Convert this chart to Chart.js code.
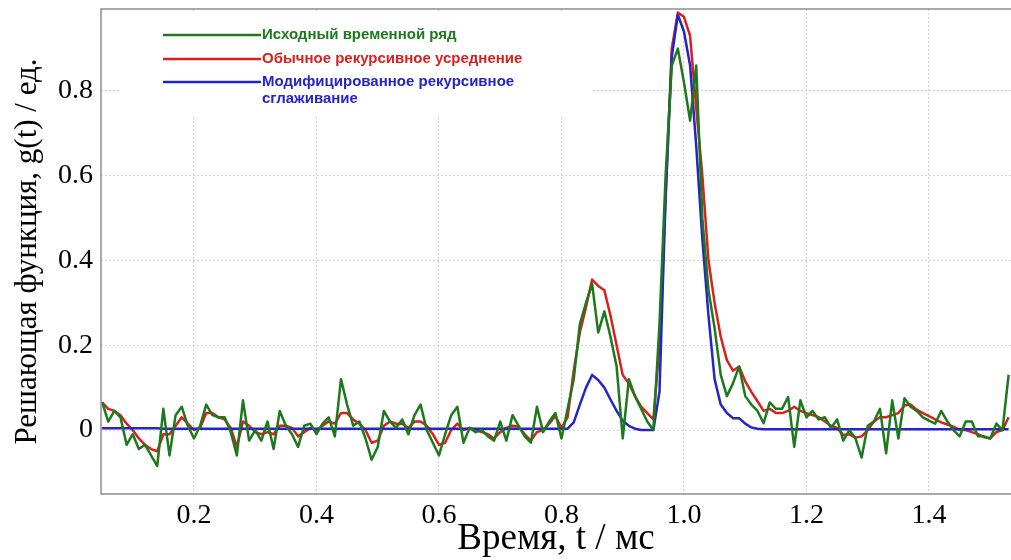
<!DOCTYPE html>
<html>
<head>
<meta charset="utf-8">
<script src="https://cdn.jsdelivr.net/npm/chart.js@4"></script>
<style>
  html, body { margin: 0; padding: 0; background: #fff; }
</style>
</head>
<body>
<canvas id="grafico" width="1011" height="560"></canvas>
<script>

// time grid: 0.05 ... 1.53 ms, step 0.01
const tStart = 0.05;
const tStep = 0.01;

// Исходный временной ряд
const iskhodnyj = [
  0.066, 0.02, 0.045, 0.03, -0.035, -0.01, -0.045, -0.035, -0.06, -0.085,
  0.05, -0.06, 0.035, 0.055, 0.01, -0.02, 0.01, 0.06, 0.035, 0.03,
  0.03, -0.005, -0.06, 0.07, -0.025, 0.0, -0.025, 0.02, -0.045, 0.045,
  0.01, -0.01, -0.04, 0.01, 0.015, -0.01, 0.015, 0.03, -0.015, 0.12,
  0.06, 0.01, 0.02, -0.02, -0.07, -0.04, 0.045, 0.02, 0.005, 0.025,
  -0.01, 0.035, 0.06, 0.0, -0.03, -0.06, -0.01, 0.035, 0.055, -0.03,
  0.005, -0.005, 0.0, -0.015, -0.025, 0.02, -0.025, 0.035, 0.01, -0.015,
  -0.03, 0.055, -0.005, 0.02, 0.04, -0.02, 0.05, 0.12, 0.25, 0.3,
  0.345, 0.23, 0.28, 0.22, 0.15, -0.02, 0.12, 0.08, 0.05, 0.02,
  0.0, 0.25, 0.6, 0.86, 0.9, 0.82, 0.73, 0.86, 0.5, 0.33,
  0.24, 0.13, 0.08, 0.11, 0.15, 0.08, 0.06, 0.045, 0.016, 0.065,
  0.05, 0.05, 0.078, -0.04, 0.07, 0.03, 0.045, 0.025, 0.03, 0.005,
  0.025, -0.025, 0.0, -0.02, -0.065, 0.01, 0.02, 0.05, -0.055, 0.07,
  -0.02, 0.075, 0.055, 0.045, 0.03, 0.022, 0.015, 0.045, 0.02, 0.0,
  -0.015, 0.02, 0.02, -0.015, -0.015, -0.02, 0.015, 0.0, 0.13
];

// Обычное рекурсивное усреднение
const obychnoe = [
  0.065, 0.05, 0.045, 0.035, 0.015, 0.0, -0.02, -0.035, -0.045, -0.05,
  -0.01, -0.01, 0.01, 0.03, 0.015, 0.0, 0.005, 0.04, 0.04, 0.03,
  0.025, 0.005, -0.04, 0.02, 0.01, -0.005, -0.01, -0.005, -0.01, 0.01,
  0.01, 0.005, -0.015, -0.005, 0.005, 0.0, 0.01, 0.02, 0.015, 0.04,
  0.04, 0.025, 0.015, 0.0, -0.03, -0.025, 0.01, 0.02, 0.015, 0.015,
  0.005, 0.02, 0.02, 0.01, -0.01, -0.035, -0.03, 0.0, 0.015, 0.0,
  0.005, 0.0, -0.005, -0.01, -0.02, -0.005, 0.005, 0.01, 0.008, -0.01,
  -0.025, -0.005, 0.0, 0.015, 0.033, 0.005, 0.03, 0.14, 0.23, 0.29,
  0.355, 0.34, 0.33, 0.27, 0.2, 0.13, 0.11, 0.08, 0.055, 0.04,
  0.025, 0.2, 0.55, 0.9, 0.985, 0.975, 0.93, 0.76, 0.6, 0.4,
  0.3, 0.22, 0.165, 0.14, 0.15, 0.115, 0.09, 0.068, 0.045, 0.05,
  0.04, 0.04, 0.045, 0.055, 0.045, 0.04, 0.035, 0.03, 0.02, 0.01,
  0.005, -0.012, -0.01, -0.018, -0.015, 0.0, 0.02, 0.03, 0.03, 0.035,
  0.04, 0.058, 0.06, 0.048, 0.04, 0.033, 0.025, 0.018, 0.013, 0.008,
  0.0, 0.0, -0.005, -0.01, -0.017, -0.02, -0.005, 0.0, 0.03
];

// Модифицированное рекурсивное сглаживание
const modific = [
  0.004, 0.004, 0.004, 0.004, 0.004, 0.004, 0.004, 0.004, 0.004, 0.004,
  0.003, 0.003, 0.003, 0.003, 0.003, 0.003, 0.003, 0.003, 0.003, 0.003,
  0.003, 0.003, 0.003, 0.003, 0.003, 0.003, 0.003, 0.003, 0.003, 0.003,
  0.003, 0.003, 0.003, 0.003, 0.003, 0.003, 0.003, 0.003, 0.003, 0.003,
  0.003, 0.003, 0.003, 0.003, 0.003, 0.003, 0.003, 0.003, 0.003, 0.003,
  0.003, 0.003, 0.003, 0.003, 0.003, 0.003, 0.003, 0.003, 0.003, 0.003,
  0.003, 0.003, 0.003, 0.003, 0.003, 0.003, 0.003, 0.003, 0.003, 0.003,
  0.003, 0.003, 0.003, 0.003, 0.003, 0.003, 0.003, 0.018, 0.06, 0.1,
  0.13, 0.118, 0.1, 0.072, 0.045, 0.022, 0.01, 0.003, 0.0, 0.0,
  0.0, 0.09, 0.55, 0.88, 0.98, 0.94, 0.86, 0.67, 0.45, 0.27,
  0.12, 0.06, 0.04, 0.028, 0.028, 0.015, 0.006, 0.003, 0.002, 0.002,
  0.002, 0.002, 0.002, 0.002, 0.002, 0.002, 0.002, 0.002, 0.002, 0.002,
  0.002, 0.002, 0.002, 0.002, 0.002, 0.002, 0.002, 0.002, 0.002, 0.002,
  0.002, 0.002, 0.002, 0.002, 0.002, 0.002, 0.002, 0.002, 0.002, 0.002,
  0.002, 0.002, 0.002, 0.002, 0.002, 0.002, 0.002, 0.002, 0.002
];

const xTicks = [0.2, 0.4, 0.6, 0.8, 1.0, 1.2, 1.4];
const xTickLabels = ['0.2', '0.4', '0.6', '0.8', '1.0', '1.2', '1.4'];
const yTicks = [0, 0.2, 0.4, 0.6, 0.8];
const yTickLabels = ['0', '0.2', '0.4', '0.6', '0.8'];

const seriesNames = [
  ['Исходный временной ряд'],
  ['Обычное рекурсивное усреднение'],
  ['Модифицированное рекурсивное', 'сглаживание']
];

const zeleny = '#1c7a1c';
const krasny = '#d8211f';
const siny = '#2424c8';

const vremya = iskhodnyj.map((_, i) => +(tStart + i * tStep).toFixed(2));
const toPoints = arr => arr.map((v, i) => ({ x: vremya[i], y: v }));

// legend box over the grid (upper left) + gray frame of the plot
const legenda = {
  id: 'legenda',
  beforeDatasetsDraw(chart) {
    const ctx = chart.ctx;
    const area = chart.chartArea;
    ctx.save();
    ctx.fillStyle = '#fff';
    ctx.fillRect(area.left + 19, area.top + 4, 473, 102);

    const colors = [zeleny, krasny, siny];
    const rows = [35, 59, 82];
    ctx.font = 'bold 15px "Liberation Sans", Arial, sans-serif';
    ctx.textBaseline = 'middle';
    ctx.lineWidth = 2.5;
    seriesNames.forEach((lines, i) => {
      ctx.strokeStyle = colors[i];
      ctx.beginPath();
      ctx.moveTo(163, rows[i]);
      ctx.lineTo(261, rows[i]);
      ctx.stroke();
      ctx.fillStyle = colors[i];
      lines.forEach((t, k) => ctx.fillText(t, 262, rows[i] + k * 17));
    });
    ctx.restore();
  },
  afterDraw(chart) {
    const ctx = chart.ctx;
    const a = chart.chartArea;
    ctx.save();
    ctx.strokeStyle = '#8f8f8f';
    ctx.lineWidth = 1.5;
    ctx.strokeRect(a.left, a.top, a.right - a.left + 2, a.bottom - a.top);
    ctx.restore();
  }
};

const ctx = document.getElementById('grafico');

new Chart(ctx, {
  type: 'line',
  data: {
    datasets: [
      { label: seriesNames[0].join(' '), data: toPoints(iskhodnyj), borderColor: zeleny, order: 0 },
      { label: seriesNames[2].join(' '), data: toPoints(modific), borderColor: siny, order: 1 },
      { label: seriesNames[1].join(' '), data: toPoints(obychnoe), borderColor: krasny, order: 2 }
    ]
  },
  options: {
    responsive: false,
    animation: false,
    devicePixelRatio: 1,
    layout: { padding: { top: 9, left: 0, right: 0, bottom: 0 } },
    elements: {
      line: { borderWidth: 2.5, tension: 0, borderJoinStyle: 'round' },
      point: { radius: 0 }
    },
    plugins: {
      legend: { display: false },
      tooltip: { enabled: false }
    },
    scales: {
      x: {
        type: 'linear',
        min: 0.0482,
        max: 1.5339,
        afterBuildTicks: s => { s.ticks = xTicks.map(v => ({ value: v })); },
        afterFit: s => { s.height = 66; s.paddingLeft = 0; s.paddingRight = 0; },
        ticks: {
          color: '#000',
          padding: 5,
          maxRotation: 0,
          font: { family: '"Liberation Serif", "Times New Roman", serif', size: 28 },
          callback: (v, i) => xTickLabels[i]
        },
        grid: { color: '#d4d4d4', drawTicks: false },
        border: { display: false, dash: [2, 2] },
        title: {
          display: true,
          text: 'Время, t / мс',
          color: '#000',
          font: { family: '"Liberation Serif", "Times New Roman", serif', size: 37, lineHeight: 1 },
          padding: { top: 0, bottom: 2 }
        }
      },
      y: {
        min: -0.151,
        max: 0.9935,
        afterBuildTicks: s => { s.ticks = yTicks.map(v => ({ value: v })); },
        afterFit: s => { s.width = 101; s.paddingTop = 0; s.paddingBottom = 0; },
        ticks: {
          color: '#000',
          padding: 8,
          font: { family: '"Liberation Serif", "Times New Roman", serif', size: 28 },
          callback: (v, i) => yTickLabels[i]
        },
        grid: { color: '#d4d4d4', drawTicks: false },
        border: { display: false, dash: [2, 2] },
        title: {
          display: true,
          text: 'Решающая функция, g(t) / ед.',
          color: '#000',
          font: { family: '"Liberation Serif", "Times New Roman", serif', size: 31, lineHeight: 1.2 },
          padding: { top: 9, bottom: 0 }
        }
      }
    }
  },
  plugins: [legenda]
});
</script>
</body>
</html>
